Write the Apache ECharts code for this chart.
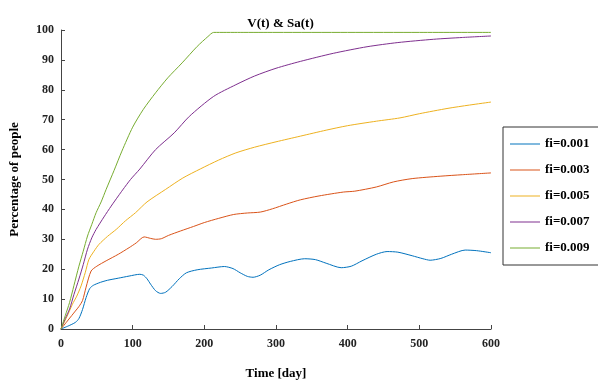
<!DOCTYPE html>
<html><head><meta charset="utf-8">
<script src="https://cdn.jsdelivr.net/npm/echarts@6/dist/echarts.min.js"></script>
<style>html,body{margin:0;padding:0;background:#fff}#c{width:598px;height:385px}</style>
</head><body><div id="c"></div>
<script>
const seriesNames = ['fi=0.001','fi=0.003','fi=0.005','fi=0.007','fi=0.009'];
const xTicks = [0,100,200,300,400,500,600];
const yTicks = [0,10,20,30,40,50,60,70,80,90,100];

const days001 = [0,10,20,25,30,35,40,45,55,65,80,95,110,115,120,125,132,139,146,155,165,175,190,210,228,240,250,260,268,278,290,305,320,340,355,370,391,405,420,440,455,470,490,505,515,530,545,564,580,600];
const vals001 = [0,1,2.2,3.5,6.5,10.5,13.5,14.6,15.6,16.3,17.0,17.7,18.3,18.0,16.8,15.0,12.8,11.9,12.3,14.2,16.8,18.8,19.8,20.4,20.9,20.2,18.8,17.6,17.3,18.0,19.8,21.5,22.6,23.5,23.2,22.0,20.5,21.0,22.8,25.0,25.9,25.7,24.5,23.5,23.0,23.6,25.0,26.4,26.2,25.5];

const days003 = [0,10,20,25,30,35,42,50,63,80,95,105,116,125,132,140,150,167,185,200,220,241,260,278,295,315,334,360,394,410,440,464,490,529,560,600];
const vals003 = [0,3,6,7.5,9.5,14,19.4,21,22.8,25,27.2,28.8,30.8,30.3,30,30.2,31.3,32.8,34.3,35.6,37,38.3,38.8,39.1,40.2,41.8,43.2,44.5,45.8,46.1,47.5,49.2,50.3,51.1,51.6,52.2];

const days005 = [0,8,16,22,28,34,39,46,53,65,77,90,104,120,146,170,195,220,244,270,300,334,370,400,440,473,500,540,570,600];
const vals005 = [0,4,8.3,11,14.4,19,23.3,26,28.3,31,33.3,36.2,38.9,42.5,46.7,50.5,53.6,56.5,58.9,60.8,62.6,64.5,66.5,68,69.5,70.6,72,73.8,74.9,75.9];

const days007 = [0,6,12,18,25,31,37,43,49,60,70,80,86,97,110,132,158,179,213,244,270,300,334,380,427,470,520,560,600];
const vals007 = [0,3.5,6.7,11.5,16.7,21.5,26.7,30.5,33.3,37.5,41.1,44.5,46.5,50,53.5,60,65.6,71.1,77.8,81.7,84.6,87.2,89.5,92.2,94.4,95.8,96.9,97.5,98];

const days009 = [0,6,12,18,25,31,37,43,49,56,63,74,85,100,115,132,149,169,190,205,213,250,300,400,500,600];
const vals009 = [0,4.5,8.9,14.5,21,26,31.1,35,38.9,42.5,46.7,53,59.5,67.5,73.5,79,84,89,94.5,97.8,99.2,99.2,99.2,99.2,99.2,99.2];

const colors = ['#0072BD','#D95319','#EDB120','#7E2F8E','#77AC30'];
const allDays = [days001,days003,days005,days007,days009];
const allVals = [vals001,vals003,vals005,vals007,vals009];

const font = '"Liberation Serif","Times New Roman",serif';
const chart = echarts.init(document.getElementById('c'));
chart.setOption({
  animation:false,
  title:{text:'V(t) & Sa(t)',left:275.5,top:12,textAlign:'center',
    textStyle:{fontFamily:font,fontWeight:'bold',fontSize:13,color:'#000'}},
  grid:{left:60,right:107,top:30,bottom:55,containLabel:false},
  legend:{orient:'vertical',left:503,top:127,icon:'rect',itemWidth:30,itemHeight:1,itemGap:12,
    padding:[10,60,10,7],borderColor:'#333',borderWidth:1,
    textStyle:{fontFamily:font,fontWeight:'bold',fontSize:13,lineHeight:14,color:'#000'},
    data:seriesNames},
  xAxis:{type:'value',min:0,max:600,interval:100,
    name:'Time [day]',nameLocation:'middle',nameGap:38,
    nameTextStyle:{fontFamily:font,fontWeight:'bold',fontSize:13,color:'#000'},
    axisLine:{lineStyle:{color:'#444',width:1}},
    axisTick:{inside:true,length:4,lineStyle:{color:'#444'}},
    axisLabel:{fontFamily:font,fontWeight:'bold',fontSize:12,color:'#222',margin:9},
    splitLine:{show:false}},
  yAxis:{type:'value',min:0,max:100,interval:10,
    name:'Percentage of people',nameLocation:'middle',nameGap:40,
    nameTextStyle:{fontFamily:font,fontWeight:'bold',fontSize:13,color:'#000'},
    axisLine:{show:true,lineStyle:{color:'#444',width:1}},
    axisTick:{show:true,inside:true,length:4,lineStyle:{color:'#444'}},
    axisLabel:{fontFamily:font,fontWeight:'bold',fontSize:12,color:'#222',margin:7},
    splitLine:{show:false}},
  series: seriesNames.map((n,i)=>({
    name:n,type:'line',symbol:'none',smooth:0.25,
    color:colors[i],itemStyle:{color:colors[i]},lineStyle:{width:1,color:colors[i]},
    data: allDays[i].map((d,j)=>[d,allVals[i][j]])
  }))
});
</script></body></html>
